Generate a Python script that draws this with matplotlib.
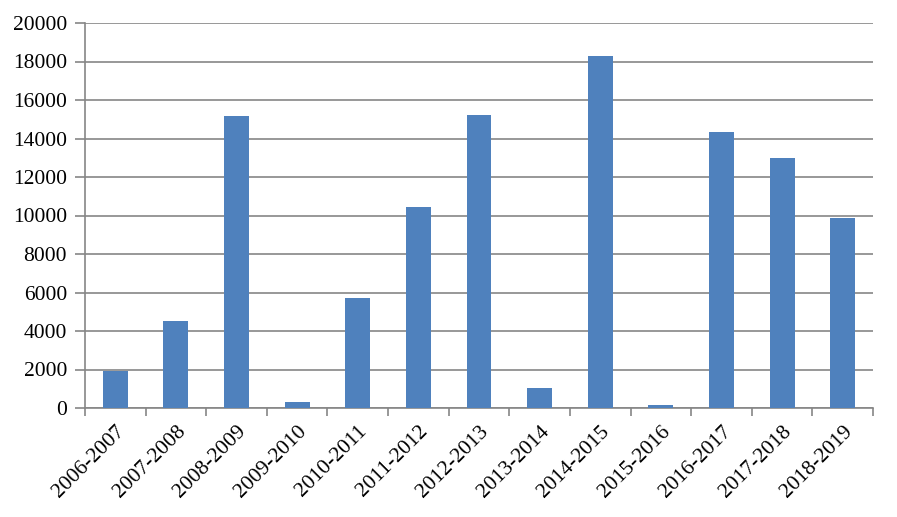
import numpy as np
import matplotlib.pyplot as plt

seasons = ['2006-2007', '2007-2008', '2008-2009', '2009-2010', '2010-2011',
           '2011-2012', '2012-2013', '2013-2014', '2014-2015', '2015-2016',
           '2016-2017', '2017-2018', '2018-2019']
values = [1920, 4520, 15170, 320, 5710, 10440, 15220, 1040, 18290, 170,
          14340, 12990, 9870]
y_ticks = [0, 2000, 4000, 6000, 8000, 10000, 12000, 14000, 16000, 18000, 20000]

plt.rcParams['font.family'] = ['Liberation Serif', 'DejaVu Serif']
grid_color = '#868686'

fig = plt.figure(figsize=(8.97, 5.17), dpi=100)
ax = fig.add_axes([85 / 897, 1 - 408 / 517, (873 - 85) / 897, (408 - 23) / 517])

x = np.arange(len(seasons))
ax.bar(x, values, width=0.41, color='#4F81BD', zorder=3)

ax.set_xlim(-0.5, len(seasons) - 0.5)
ax.set_ylim(0, 20000)
ax.set_yticks(y_ticks)
ax.set_yticklabels([str(v) for v in y_ticks], fontsize=15.5)
ax.yaxis.grid(True, color=grid_color, linewidth=1.2, zorder=0)

# category boundary ticks on x axis
ax.set_xticks(np.arange(-0.5, len(seasons) + 0.5, 1))
ax.set_xticklabels([])
ax.set_xticks(x, minor=True)
ax.set_xticklabels(seasons, minor=True, rotation=45, ha='right',
                   rotation_mode='anchor', fontsize=15.5)
ax.tick_params(axis='x', which='minor', length=0, pad=10)
ax.tick_params(axis='x', which='major', length=6, width=1.2, color=grid_color)
ax.tick_params(axis='y', length=7, width=1.2, color=grid_color, pad=6)

for side in ['top', 'right']:
    ax.spines[side].set_visible(False)
for side in ['left', 'bottom']:
    ax.spines[side].set_color(grid_color)
    ax.spines[side].set_linewidth(1.2)

plt.savefig('out.png', dpi=100)
